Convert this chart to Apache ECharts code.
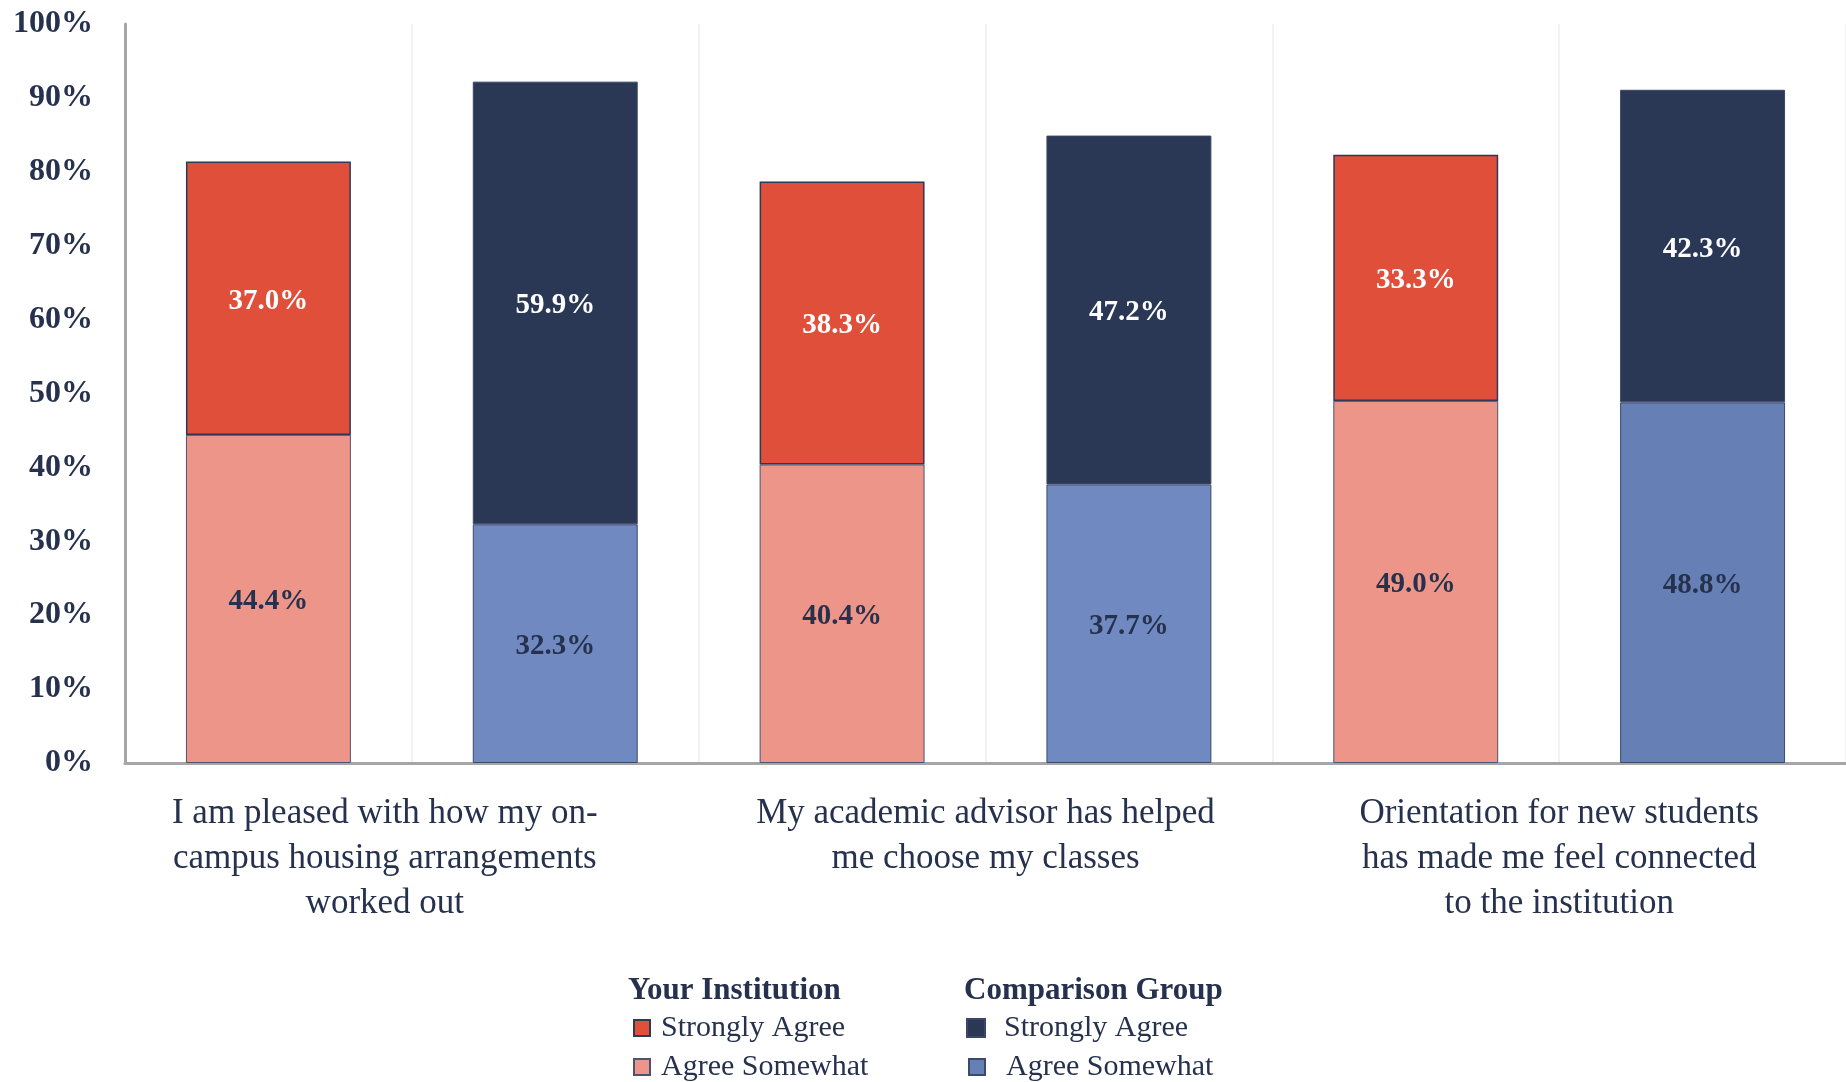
<!DOCTYPE html>
<html>
<head>
<meta charset="utf-8">
<script src="https://cdn.jsdelivr.net/npm/echarts@6/dist/echarts.min.js"></script>
<style>
  html, body { margin: 0; padding: 0; background: #fff; }
  #chart { width: 1846px; height: 1082px; }
</style>
</head>
<body>
<div id="chart"></div>
<script>
// bar slots: institution / comparison alternate
var slots = ['inst1', 'comp1', 'inst2', 'comp2', 'inst3', 'comp3'];
var questions = [
    'I am pleased with how my on-\ncampus housing arrangements\nworked out',
    'My academic advisor has helped\nme choose my classes',
    'Orientation for new students\nhas made me feel connected\nto the institution'
];
var instSomewhat = [44.4, '-', 40.4, '-', 49.0, '-'];
var instStrongly = [37.0, '-', 38.3, '-', 33.3, '-'];
var compSomewhat = ['-', 32.3, '-', 37.7, '-', 48.8];
var compStrongly = ['-', 59.9, '-', 47.2, '-', 42.3];
var yTicks = [0, 10, 20, 30, 40, 50, 60, 70, 80, 90, 100];

var legendNames = {
    instStrong: 'Strongly Agree',
    instSome: 'Agree Somewhat',
    compStrong: 'Strongly Agree',
    compSome: 'Agree Somewhat'
};

var serif = '"Liberation Serif", "DejaVu Serif", serif';
var navy = '#25314d';

var chart = echarts.init(document.getElementById('chart'));

function barLabel(color) {
    return {
        show: true,
        position: 'inside',
        color: color,
        fontFamily: serif,
        fontWeight: 'bold',
        fontSize: 29,
        offset: [0, 3],
        formatter: function (p) { return p.value.toFixed(1) + '%'; }
    };
}

// one legend per item so each can be placed like the original
function legendItem(name, left, top, size, gap, color) {
    var item = {name: name};
    if (color) item.itemStyle = {color: color};
    return {
        left: left, top: top, padding: 0,
        itemWidth: size, itemHeight: size,
        icon: 'rect', selectedMode: false,
        textStyle: {fontFamily: serif, fontSize: 30, color: navy, padding: [0, 0, 0, gap]},
        formatter: function (n) { return legendNames[n]; },
        data: [item]
    };
}

var option = {
    backgroundColor: '#fff',
    animation: false,
    grid: {left: 125, right: 0, top: 24, bottom: 319},
    legend: [
        legendItem('instStrong', 633, 1013, 16, 6),
        legendItem('instSome', 633, 1052, 16, 6),
        legendItem('compStrong', 966, 1013, 18, 14),
        legendItem('compSome', 968, 1052, 16, 16, '#6680b5')
    ],
    graphic: [
        {type: 'text', left: 628, top: 975, style: {text: 'Your Institution', font: 'bold 31px ' + serif, fill: navy}},
        {type: 'text', left: 964, top: 975, style: {text: 'Comparison Group', font: 'bold 31px ' + serif, fill: navy}}
    ],
    xAxis: [
        {
            type: 'category',
            data: slots,
            axisLine: {lineStyle: {color: '#a6a6a6', width: 3}},
            axisTick: {show: false},
            axisLabel: {show: false},
            splitLine: {show: true, lineStyle: {color: '#f2f2f2', width: 2}}
        },
        {
            type: 'category',
            position: 'bottom',
            data: questions,
            axisLine: {show: false},
            axisTick: {show: false},
            axisLabel: {
                margin: 28,
                interval: 0,
                formatter: function (v, i) { return (i === 0 ? '{s|' : '{t|') + v.split('\n').join(i === 0 ? '}\n{s|' : '}\n{t|') + '}'; },
                rich: {
                    s: {fontFamily: serif, fontSize: 35, lineHeight: 45, color: navy, padding: [0, 54, 0, 0]},
                    t: {fontFamily: serif, fontSize: 35, lineHeight: 45, color: navy}
                }
            }
        }
    ],
    yAxis: {
        type: 'value',
        min: 0,
        max: 100,
        interval: 10,
        axisLine: {show: true, lineStyle: {color: '#a6a6a6', width: 3}},
        axisTick: {show: false},
        splitLine: {show: false},
        axisLabel: {
            margin: 32,
            fontFamily: serif,
            fontWeight: 'bold',
            fontSize: 32,
            color: navy,
            formatter: function (v) { return yTicks.indexOf(v) >= 0 ? v + '%' : ''; }
        }
    },
    series: [
        {
            name: 'instSome', type: 'bar', stack: 'all', barWidth: '57.5%',
            itemStyle: {color: '#ec9588', borderColor: '#4a5470', borderWidth: 1},
            label: barLabel(navy),
            data: instSomewhat
        },
        {
            name: 'instStrong', type: 'bar', stack: 'all',
            itemStyle: {color: '#e04f39', borderColor: '#2b3a57', borderWidth: 1.5},
            label: barLabel('#fff'),
            data: instStrongly
        },
        {
            name: 'compSome', type: 'bar', stack: 'all',
            itemStyle: {
                // last comparison bar is a slightly deeper blue in the original
                color: function (p) { return p.dataIndex === 5 ? '#6680b5' : '#7189c1'; },
                borderColor: '#3c4a6a', borderWidth: 1
            },
            label: barLabel(navy),
            data: compSomewhat
        },
        {
            name: 'compStrong', type: 'bar', stack: 'all',
            itemStyle: {color: '#2a3856', borderColor: '#3a4766', borderWidth: 1},
            label: barLabel('#fff'),
            data: compStrongly
        }
    ]
};

chart.setOption(option);
</script>
</body>
</html>
